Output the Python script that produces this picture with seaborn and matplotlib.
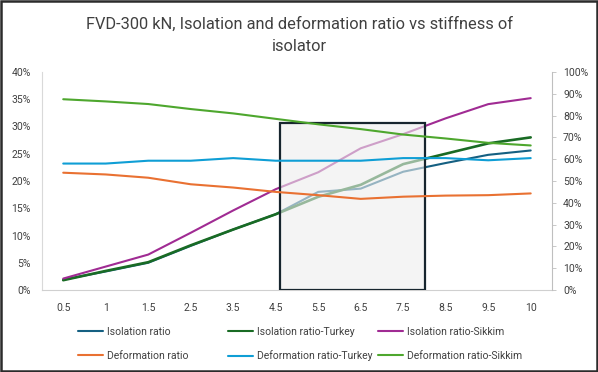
import numpy as np
import matplotlib
matplotlib.use("Agg")
import matplotlib.pyplot as plt
import matplotlib.patches as patches
from matplotlib.lines import Line2D
from matplotlib.ticker import PercentFormatter
import seaborn as sns

# ---- data ----
stiffness = ["0.5", "1", "1.5", "2.5", "3.5", "4.5", "5.5", "6.5", "7.5", "8.5", "9.5", "10"]

# isolation ratios (left axis, %)
iso_ratio = [1.9, 3.4, 5.0, 8.1, 11.1, 13.9, 18.0, 18.6, 21.7, 23.3, 24.8, 25.6]
iso_turkey = [1.8, 3.5, 5.1, 8.2, 11.1, 13.9, 17.1, 19.3, 23.1, 25.0, 26.9, 28.0]
iso_sikkim = [2.1, 4.3, 6.5, 10.5, 14.6, 18.5, 21.6, 26.0, 28.6, 31.5, 34.1, 35.2]

# deformation ratios (right axis, %)
def_ratio = [53.8, 53.0, 51.5, 48.5, 47.0, 45.0, 43.5, 41.8, 42.8, 43.3, 43.5, 44.3]
def_turkey = [58.0, 58.0, 59.3, 59.3, 60.5, 59.3, 59.3, 59.3, 60.5, 60.5, 59.5, 60.5]
def_sikkim = [87.5, 86.5, 85.3, 83.0, 81.0, 78.5, 76.0, 73.8, 71.3, 69.5, 67.5, 66.3]

# highlighted region (category index units, left-axis %)
box_x = [5.11, 8.51]
box_top = 30.6

sns.set_style("white")
plt.rcParams['font.family'] = ['Roboto', 'DejaVu Sans']

fig = plt.figure(figsize=(5.98, 3.72), dpi=100)
ax = fig.add_axes([0.0702, 0.2204, 0.8528, 0.5861])
ax2 = ax.twinx()

x = np.arange(len(stiffness))

iso_series = [
    ("Isolation ratio", iso_ratio, "#156082", 1.5),
    ("Isolation ratio-Turkey", iso_turkey, "#196B24", 1.9),
    ("Isolation ratio-Sikkim", iso_sikkim, "#A02B93", 1.5),
]
def_series = [
    ("Deformation ratio", def_ratio, "#E97132", 1.5),
    ("Deformation ratio-Turkey", def_turkey, "#0F9ED5", 1.5),
    ("Deformation ratio-Sikkim", def_sikkim, "#4EA72E", 1.5),
]

for name, vals, col, lw in iso_series:
    sns.lineplot(x=x, y=np.array(vals) / 100, ax=ax, color=col, linewidth=lw, zorder=2, legend=False)
for name, vals, col, lw in def_series:
    sns.lineplot(x=x, y=np.array(vals) / 100, ax=ax2, color=col, linewidth=lw, zorder=2, legend=False)

# grey box over the isolation curves
rect = patches.Rectangle((box_x[0], 0), box_x[1] - box_x[0], box_top / 100,
                         facecolor=(0.93, 0.93, 0.93, 0.6), edgecolor="#17252e",
                         linewidth=1.6, zorder=3)
ax.add_patch(rect)

ax.set_xlim(-0.5, len(stiffness) - 0.5)
ax.set_ylim(0, 0.40)
ax2.set_ylim(0, 1.0)
ax.set_yticks(np.arange(0, 0.41, 0.05))
ax2.set_yticks(np.arange(0, 1.01, 0.1))
ax.yaxis.set_major_formatter(PercentFormatter(1.0, decimals=0))
ax2.yaxis.set_major_formatter(PercentFormatter(1.0, decimals=0))
ax.set_xticks(x)
ax.set_xticklabels(stiffness)

for a in (ax, ax2):
    for s in a.spines.values():
        s.set_visible(False)
    a.set_xlabel("")
    a.set_ylabel("")
ax.spines['bottom'].set_visible(True)
ax.spines['bottom'].set_color("#d0d0d0")
ax.spines['left'].set_visible(True)
ax.spines['left'].set_color("#d9d9d9")
ax2.spines['right'].set_visible(True)
ax2.spines['right'].set_color("#bfbfbf")

ax.tick_params(axis='x', length=0, pad=9, labelsize=7.5, labelcolor="#404040")
ax.tick_params(axis='y', length=0, pad=8, labelsize=7.5, labelcolor="#404040")
ax2.tick_params(axis='y', length=3, width=0.6, color="#bfbfbf", pad=5, labelsize=7.5, labelcolor="#404040")

fig.text(0.5, 0.905, "FVD-300 kN, Isolation and deformation ratio vs stiffness of\nisolator",
         ha='center', va='center', fontsize=11.8, color="#404040", linespacing=1.6)

# legend: three equal-width columns like the spreadsheet one
col_x = [78, 228, 378]
for i in range(3):
    pair = [iso_series[i], def_series[i]]
    hs = [Line2D([], [], color=p[2], linewidth=1.5) for p in pair]
    fig.legend(hs, [p[0] for p in pair], loc='upper left',
               bbox_to_anchor=(col_x[i] / 598, 1 - 327 / 372),
               frameon=False, fontsize=7.5, handlelength=2.4, handletextpad=0.4,
               borderpad=0, borderaxespad=0, labelspacing=1.3, labelcolor="#404040")

# outer chart border
fig.patches.append(patches.Rectangle((0.002, 0.003), 0.996, 0.994, transform=fig.transFigure,
                                     fill=False, edgecolor="#2b2b2b", linewidth=1.8))

fig.savefig("out.png", dpi=100)
